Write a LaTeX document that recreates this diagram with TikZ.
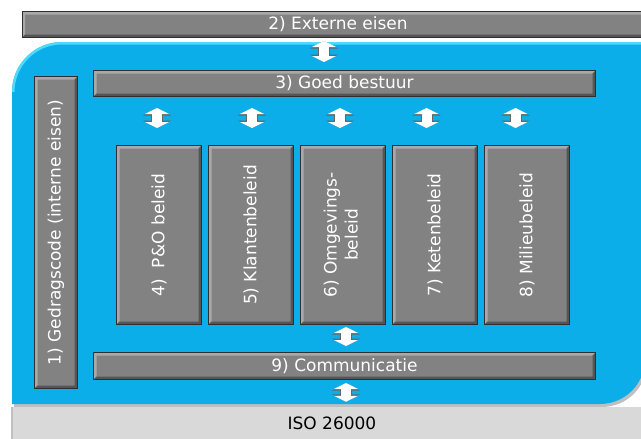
\documentclass[tikz,border=0pt]{standalone}
\usepackage{fontspec}
\setsansfont{DejaVu Sans}
\usetikzlibrary{arrows.meta, positioning, calc}
\definecolor{cblue}{HTML}{0BAEE8}
\definecolor{ctop}{HTML}{4ADBFF}
\definecolor{cgrey}{HTML}{828282}
\definecolor{cedge}{HTML}{2F2F2F}
\definecolor{clight}{HTML}{A9A9A9}
\definecolor{cshade}{HTML}{555555}
\definecolor{ciso}{HTML}{D9D9D9}
\newcommand{\bluearea}{(12,404) -- (12,92) arc[start angle=180, end angle=270, radius=50]
  -- (645,42) -- (645,359) arc[start angle=0, end angle=90, radius=45] -- cycle}
\tikzset{
  every picture/.style={font=\sffamily\fontsize{17}{21}\selectfont},
  bevel/.style={path picture={
    \fill[clight] (path picture bounding box.south west) -- (path picture bounding box.north west)
      -- (path picture bounding box.north east) -- ++(-3pt,-3pt)
      -- ([shift={(3pt,-3pt)}]path picture bounding box.north west)
      -- ([shift={(3pt,3pt)}]path picture bounding box.south west) -- cycle;
    \fill[cshade] (path picture bounding box.south west) -- (path picture bounding box.south east)
      -- (path picture bounding box.north east) -- ++(-3pt,-3pt)
      -- ([shift={(-3pt,3pt)}]path picture bounding box.south east)
      -- ([shift={(3pt,3pt)}]path picture bounding box.south west) -- cycle;
  }},
  bar/.style={draw=cedge, fill=cgrey, line width=1pt, text=white, inner sep=0pt, bevel},
  col/.style={bar, minimum width=85pt, minimum height=179pt},
  barrow/.style={draw=white, line width=10pt,
    {Triangle[width=24pt,length=6pt]}-{Triangle[width=24pt,length=6pt]},
    preaction={draw=black!60, line width=12pt,
      {Triangle[width=28pt,length=7.5pt]}-{Triangle[width=28pt,length=7.5pt]}}},
}
\begin{document}
\begin{tikzpicture}[x=1pt, y=-1pt]
  \clip (0,0) rectangle (641,439);
  \fill[white] (0,0) rectangle (641,439);
  % blue area with shadow and top light
  \fill[black!25, xshift=2pt, yshift=-3pt] \bluearea;
  \fill[cblue] \bluearea;
  \begin{scope}
    \clip \bluearea;
    \draw[ctop, line width=5pt] (12,92) arc[start angle=180, end angle=270, radius=50] -- (645,42);
  \end{scope}
  % bars
  \node[bar, minimum width=632pt, minimum height=26pt] (ext) at (338,24.5) {2) Externe eisen};
  \node[bar, minimum width=502pt, minimum height=26pt] (bestuur) at (344.5,83.5) {3) Goed bestuur};
  \node[bar, minimum width=502pt, minimum height=27pt] (comm) at (344.5,366) {9) Communicatie};
  \node[bar, minimum width=43pt, minimum height=312pt] (code) at (56,232.5)
    {\rotatebox{90}{1) Gedragscode (interne eisen)}};
  \node[fill=ciso, minimum width=640pt, minimum height=32pt, inner sep=0pt] (iso) at (332,423) {ISO 26000};
  \draw[black!25, line width=2pt] (iso.north west) -- (iso.south west);
  % columns
  \node[col] (po) at (159,235) {\rotatebox{90}{4)\ \ P\&O beleid}};
  \node[col, right=6pt of po] (klant) {\rotatebox{90}{5) Klantenbeleid}};
  \node[col, right=6pt of klant] (omgeving)
    {\rotatebox{90}{\begin{tabular}{@{}c@{}}6) Omgevings-\\beleid\end{tabular}}};
  \node[col, right=6pt of omgeving] (keten) {\rotatebox{90}{7) Ketenbeleid}};
  \node[col, right=6pt of keten] (milieu) {\rotatebox{90}{8) Milieubeleid}};
  % arrows
  \coordinate (a0) at ([xshift=-20.5pt]bestuur.north);
  \draw[barrow, shorten <=8pt, shorten >=3pt] (a0) -- (a0 |- ext.south);
  \foreach \c/\dx in {po/-2, klant/1, omgeving/-3, keten/-8.5, milieu/-11.5}{
    \coordinate (t) at ([xshift=\dx pt]\c.north);
    \draw[barrow, shorten <=11pt, shorten >=17pt] (t |- bestuur.south) -- (t);
  }
  \coordinate (a1) at ([xshift=3pt]omgeving.south);
  \draw[barrow, shorten <=2pt, shorten >=6pt] (a1) -- (a1 |- comm.north);
  \coordinate (a2) at ([xshift=1.5pt]comm.south);
  \draw[barrow, shorten <=3pt, shorten >=5pt] (a2) -- (a2 |- iso.north);
\end{tikzpicture}
\end{document}
